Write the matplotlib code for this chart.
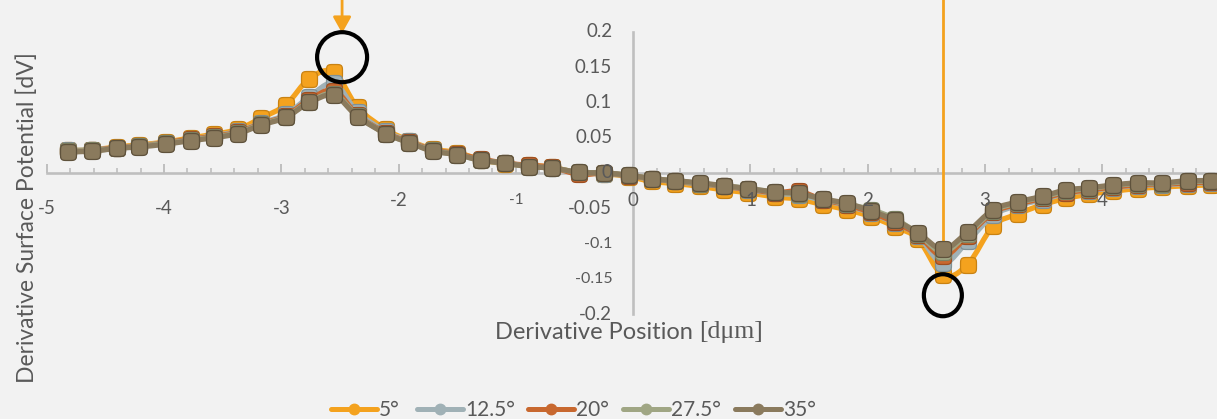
import numpy as np
import matplotlib
matplotlib.use("Agg")
import matplotlib.pyplot as plt
from matplotlib.path import Path
from matplotlib.patches import PathPatch, Ellipse
from matplotlib.lines import Line2D
from matplotlib.transforms import offset_copy
from matplotlib.ticker import MultipleLocator

# ---------------------------------------------------------------- data
positions = [-4.82, -4.61, -4.40, -4.21, -3.98, -3.77, -3.57, -3.37, -3.17, -2.96,
             -2.76, -2.55, -2.35, -2.11, -1.91, -1.71, -1.50, -1.30, -1.09, -0.89,
             -0.69, -0.46, -0.25, -0.04, 0.16, 0.36, 0.57, 0.77, 0.98, 1.21,
             1.41, 1.62, 1.82, 2.03, 2.23, 2.43, 2.64, 2.85, 3.07, 3.28,
             3.49, 3.69, 3.89, 4.09, 4.30, 4.51, 4.73, 4.93]

dv_5 = [0.032, 0.033, 0.037, 0.040, 0.044, 0.050, 0.055, 0.062, 0.078, 0.097,
        0.134, 0.143, 0.093, 0.062, 0.046, 0.034, 0.029, 0.019, 0.013, 0.011,
        0.008, 0.000, -0.001, -0.005, -0.012, -0.015, -0.019, -0.024, -0.028, -0.034,
        -0.037, -0.045, -0.052, -0.062, -0.076, -0.094, -0.145, -0.130, -0.075, -0.058,
        -0.045, -0.036, -0.030, -0.026, -0.022, -0.020, -0.018, -0.017]

dv_12_5 = [0.032, 0.033, 0.036, 0.039, 0.043, 0.048, 0.053, 0.059, 0.071, 0.083,
           0.108, 0.127, 0.086, 0.059, 0.045, 0.033, 0.027, 0.019, 0.014, 0.010,
           0.007, 0.000, -0.001, -0.004, -0.009, -0.012, -0.016, -0.019, -0.024, -0.029,
           -0.031, -0.039, -0.046, -0.057, -0.071, -0.089, -0.128, -0.097, -0.060, -0.046,
           -0.038, -0.029, -0.025, -0.021, -0.018, -0.017, -0.015, -0.014]

dv_20 = [0.031, 0.032, 0.036, 0.038, 0.043, 0.048, 0.052, 0.058, 0.070, 0.081,
         0.104, 0.117, 0.082, 0.057, 0.044, 0.033, 0.027, 0.020, 0.014, 0.011,
         0.008, -0.002, 0.000, -0.004, -0.008, -0.012, -0.015, -0.019, -0.023, -0.028,
         -0.026, -0.038, -0.045, -0.056, -0.070, -0.088, -0.118, -0.089, -0.056, -0.044,
         -0.036, -0.028, -0.024, -0.020, -0.017, -0.016, -0.014, -0.013]

dv_27_5 = [0.031, 0.032, 0.035, 0.038, 0.042, 0.047, 0.051, 0.057, 0.069, 0.080,
           0.101, 0.112, 0.081, 0.056, 0.043, 0.032, 0.026, 0.018, 0.014, 0.009,
           0.007, 0.001, 0.000, -0.003, -0.008, -0.011, -0.015, -0.018, -0.022, -0.027,
           -0.030, -0.037, -0.044, -0.052, -0.065, -0.086, -0.112, -0.086, -0.054, -0.042,
           -0.034, -0.026, -0.022, -0.018, -0.015, -0.015, -0.012, -0.012]

dv_35 = [0.030, 0.031, 0.035, 0.037, 0.041, 0.046, 0.050, 0.056, 0.068, 0.079,
         0.100, 0.110, 0.080, 0.056, 0.043, 0.031, 0.026, 0.018, 0.014, 0.009,
         0.007, 0.001, 0.000, -0.003, -0.008, -0.011, -0.014, -0.018, -0.022, -0.027,
         -0.029, -0.037, -0.043, -0.054, -0.067, -0.085, -0.108, -0.084, -0.052, -0.041,
         -0.033, -0.024, -0.021, -0.017, -0.014, -0.014, -0.011, -0.011]

series_names = ["5°", "12.5°", "20°", "27.5°", "35°"]
series_values = [dv_5, dv_12_5, dv_20, dv_27_5, dv_35]

x_tick_values = [-5, -4, -3, -2, -1, 0, 1, 2, 3, 4]
y_tick_values = [0.2, 0.15, 0.1, 0.05, 0, -0.05, -0.1, -0.15, -0.2]
y_tick_labels = ["0.2", "0.15", "0.1", "0.05", "0", "-0.05", "-0.1", "-0.15", "-0.2"]

# ---------------------------------------------------------------- style
colors = ["#F4A21E", "#A0B1B6", "#C8682F", "#A0A684", "#8A7A5D"]
edge_colors = ["#C98212", "#7F9196", "#9F4E20", "#7D8364", "#5F523C"]
text_color = "#595959"
axis_color = "#BFBFBF"
bg = "#F2F2F2"
font = ["Lato", "DejaVu Sans"]
plt.rcParams["font.family"] = font

W, H = 1217, 419
fig = plt.figure(figsize=(W / 100, H / 100), dpi=100, facecolor=bg)
ax = fig.add_axes([46.7 / W, (H - 314) / H, 1173 / W, 282 / H])
ax.set_facecolor("none")
ax.set_xlim(-5, 5)
ax.set_ylim(-0.2, 0.2)

for side in ("top", "right"):
    ax.spines[side].set_visible(False)
ax.spines["left"].set_position(("data", 0))
ax.spines["bottom"].set_position(("data", 0))
for side in ("left", "bottom"):
    ax.spines[side].set_color(axis_color)
    ax.spines[side].set_linewidth(1.9)
    ax.spines[side].set_zorder(1)

ax.set_xticks(x_tick_values)
ax.xaxis.set_minor_locator(MultipleLocator(0.2))
ax.tick_params(axis="x", which="major", direction="in", length=6.5, width=1.4,
               color=axis_color, labelbottom=False)
ax.tick_params(axis="x", which="minor", direction="in", length=3.5, width=1.2,
               color=axis_color)
ax.set_yticks([])

# tick labels drawn next to the crossing axes
low_x_labels = {-5, -4, -3}
small_labels = {"-1", "-0.1", "-0.15"}
for xv in x_tick_values:
    lab = str(xv)
    dy = -35 if xv in low_x_labels else -27
    ax.annotate(lab, xy=(xv, 0), xytext=(0, dy), textcoords="offset pixels",
                ha="center", va="center", color=text_color,
                fontsize=11 if lab in small_labels else 13.5, zorder=20)
for yv, lab in zip(y_tick_values, y_tick_labels):
    ax.annotate(lab, xy=(0, yv), xytext=(-21, 0), textcoords="offset pixels",
                ha="right", va="center", color=text_color,
                fontsize=11.5 if lab in small_labels else 13.5, zorder=20)


def smooth_path(x, y):
    """Bezier path through the points, smoothed the way spreadsheet charts do."""
    pts = np.column_stack([x, y])
    n = len(pts)
    verts = [pts[0]]
    codes = [Path.MOVETO]
    for i in range(n - 1):
        p0 = pts[i - 1] if i > 0 else pts[i]
        p1, p2 = pts[i], pts[i + 1]
        p3 = pts[i + 2] if i + 2 < n else pts[i + 1]
        verts += [p1 + (p2 - p0) / 6.0, p2 - (p3 - p1) / 6.0, p2]
        codes += [Path.CURVE4] * 3
    return Path(verts, codes)


# rounded-square marker
t = np.linspace(0, 2 * np.pi, 80, endpoint=False)
c, s = np.cos(t), np.sin(t)
mk = np.column_stack([np.sign(c) * np.abs(c) ** 0.45, np.sign(s) * np.abs(s) ** 0.45])
marker_path = Path(np.vstack([mk, mk[:1]]), closed=True)

# highlight guide for the 5° minimum (behind series)
i_min = int(np.argmin(dv_5))
ax.plot([positions[i_min], positions[i_min]], [dv_5[i_min], 0.3], color=colors[0],
        lw=2.0, clip_on=False, zorder=2, solid_capstyle="butt")

for k, (vals, col, ecol) in enumerate(zip(series_values, colors, edge_colors)):
    z = 3 + 2 * k
    ax.add_patch(PathPatch(smooth_path(positions, vals), fill=False, edgecolor=col,
                           lw=3.8, capstyle="round", joinstyle="round", zorder=z))
    ax.plot(positions, vals, ls="none", marker=marker_path, ms=11.5, mfc=col,
            mec=ecol, mew=0.9, zorder=z + 1)

# highlight of the 5° maximum: arrow and circle
i_max = int(np.argmax(dv_5))
tip = offset_copy(ax.transData, fig=fig, x=8, y=39, units="dots")
ax.annotate("", xy=(positions[i_max], dv_5[i_max]), xycoords=tip,
            xytext=(0, 60), textcoords="offset pixels",
            arrowprops=dict(arrowstyle="-|>,head_length=0.75,head_width=0.42",
                            color=colors[0], lw=2.0, mutation_scale=13,
                            shrinkA=0, shrinkB=0),
            annotation_clip=False, zorder=30)

sx = 1173 / 10.0   # pixels per x unit
sy = 282 / 0.4     # pixels per y unit
circ_top = Ellipse((positions[i_max], dv_5[i_max]), width=50 / sx, height=50 / sy,
                   transform=offset_copy(ax.transData, fig=fig, x=8, y=15, units="dots"),
                   fill=False, edgecolor="black", lw=3.0, clip_on=False, zorder=30)
circ_bot = Ellipse((positions[i_min], dv_5[i_min]), width=38 / sx, height=42 / sy,
                   transform=offset_copy(ax.transData, fig=fig, x=0, y=-20, units="dots"),
                   fill=False, edgecolor="black", lw=3.0, clip_on=False, zorder=30)
ax.add_patch(circ_top)
ax.add_patch(circ_bot)


# axis titles
def px(x, y):
    return x / W, 1 - y / H


xt = fig.text(*px(495, 332), "Derivative Position ", ha="left", va="center",
              fontsize=17, color=text_color)
ax.annotate("[dμm]", xy=(1, 0.5), xycoords=xt, ha="left", va="center",
            fontsize=18.5, color=text_color, family=["Liberation Serif", "DejaVu Serif"],
            annotation_clip=False)
fig.text(*px(27, 218), "Derivative Surface Potential [dV]", rotation=90,
         ha="center", va="center", fontsize=16.5, color=text_color)

# legend
leg_x0 = [331, 417, 528, 623, 735]
leg_y = 409
for x0, name, col in zip(leg_x0, series_names, colors):
    xa, ya = px(x0, leg_y)
    xb, _ = px(x0 + 46, leg_y)
    xm, _ = px(x0 + 23, leg_y)
    fig.add_artist(Line2D([xa, xm, xb], [ya, ya, ya], transform=fig.transFigure,
                          color=col, lw=3.6, solid_capstyle="round",
                          marker="o", markevery=[1], ms=7.5, mfc=col, mec=col))
    fig.text(*px(x0 + 48, leg_y + 1), name, ha="left", va="center",
             fontsize=15, color=text_color)

fig.savefig("out.png", dpi=100, facecolor=bg)
